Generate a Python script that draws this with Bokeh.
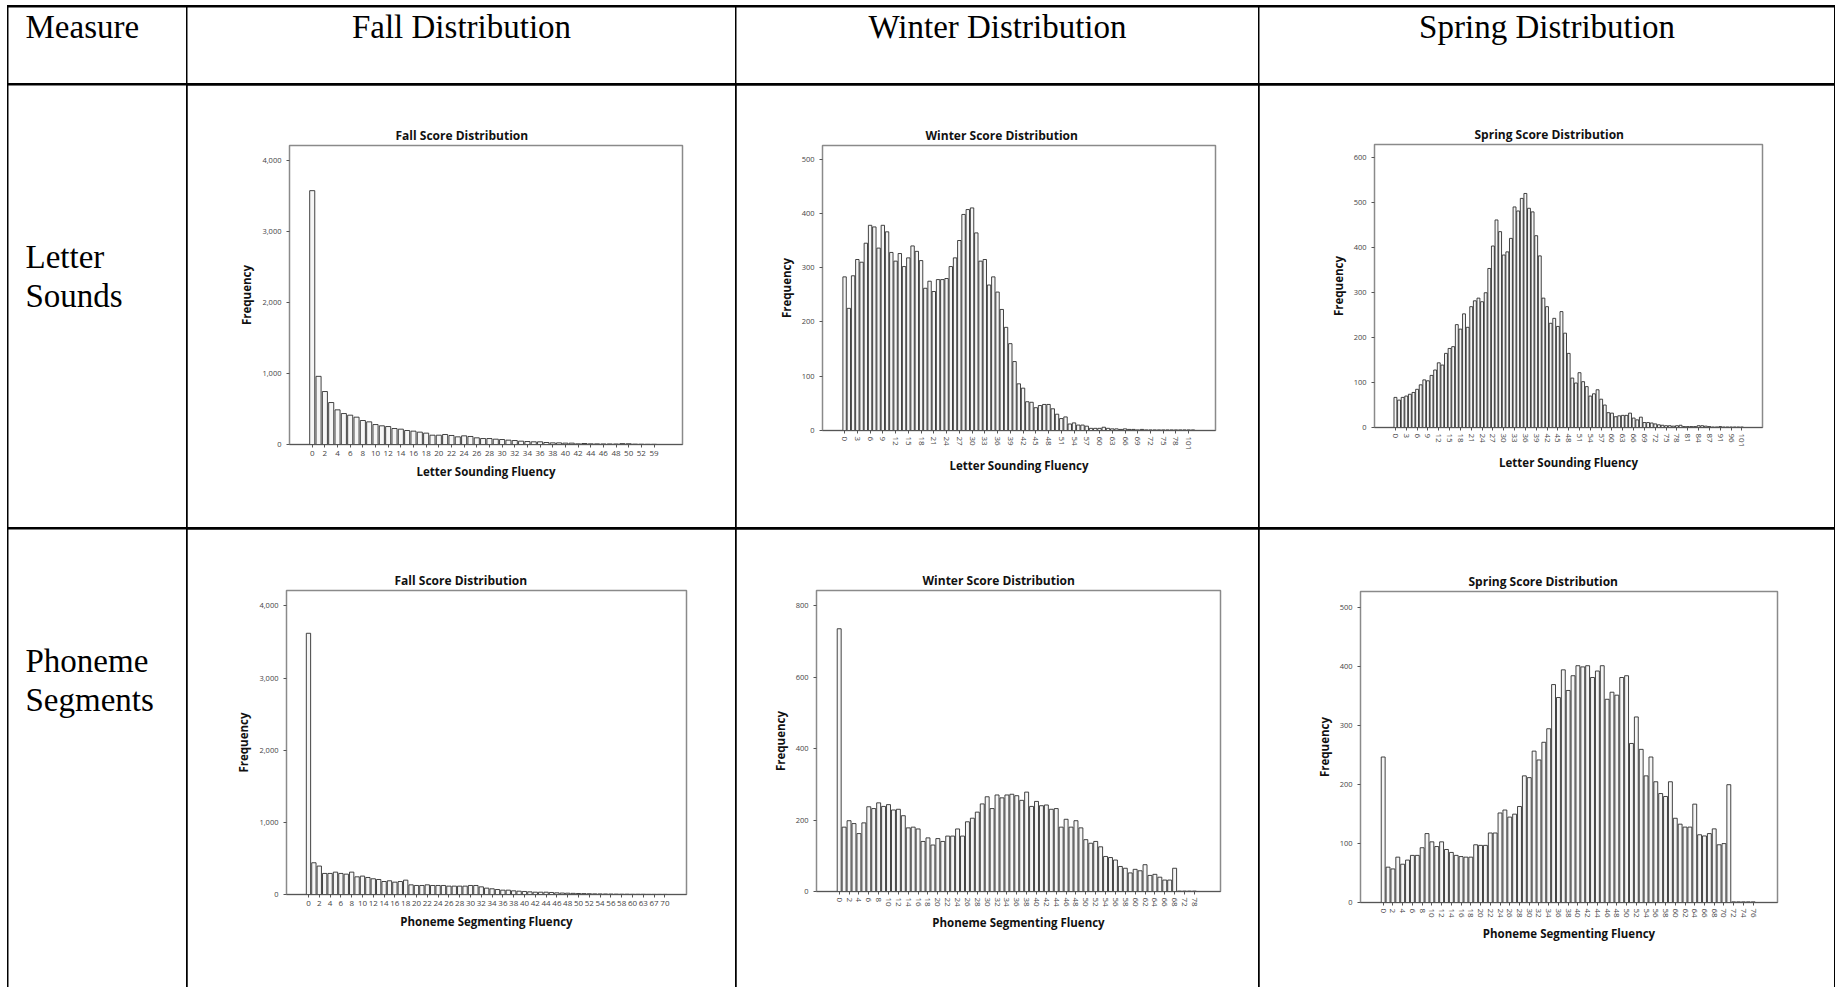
from bokeh.plotting import figure
from bokeh.layouts import row, column
from bokeh.models import Range1d, FixedTicker, SingleIntervalTicker, NumeralTickFormatter
from bokeh.core.properties import value
from bokeh.embed import file_html
from bokeh.resources import INLINE

# ---------------- text of the table ----------------
header_labels = ["Measure", "Fall Distribution", "Winter Distribution", "Spring Distribution"]
measure_labels = [["Letter", "Sounds"], ["Phoneme", "Segments"]]
chart_titles = ["Fall Score Distribution", "Winter Score Distribution", "Spring Score Distribution"]
x_titles = ["Letter Sounding Fluency", "Phoneme Segmenting Fluency"]
y_title = "Frequency"

# ---------------- data (score categories and frequencies) ----------------
fall_letter_scores = list(range(0, 53)) + [54, 59]
fall_letter_freq = [3575, 960, 746, 591, 488, 436, 413, 385, 338, 319,
                    281, 263, 253, 225, 216, 197, 188, 174, 160, 131,
                    131, 141, 127, 108, 122, 113, 94, 84, 84, 75,
                    70, 61, 56, 47, 42, 38, 38, 28, 23, 23,
                    19, 19, 9, 14, 9, 8, 7, 7, 6, 12,
                    10, 4, 3, 2, 2]

winter_letter_scores = list(range(0, 79)) + [80, 84, 101, 108]
winter_letter_freq = [283, 225, 285, 315, 310, 345, 378, 375, 336, 378,
                      366, 328, 312, 326, 302, 318, 340, 330, 313, 262,
                      275, 256, 278, 278, 280, 302, 318, 350, 398, 407,
                      410, 364, 312, 315, 268, 283, 255, 223, 190, 160,
                      127, 86, 78, 53, 52, 42, 46, 48, 48, 40,
                      30, 22, 25, 12, 14, 10, 10, 8, 4, 4,
                      4, 6, 4, 3, 3, 2, 3, 2, 2, 1,
                      2, 1, 1, 1, 1, 1, 1, 1, 1, 1,
                      1, 1, 1]

spring_letter_scores = list(range(0, 90)) + [91, 93, 94, 96, 97, 99, 101]
spring_letter_freq = [67, 61, 67, 70, 74, 78, 85, 95, 106, 104,
                      116, 128, 144, 139, 165, 176, 180, 229, 219, 253,
                      223, 269, 282, 288, 280, 300, 354, 404, 462, 436,
                      384, 391, 421, 491, 482, 510, 521, 488, 480, 427,
                      382, 288, 269, 232, 243, 225, 258, 210, 165, 110,
                      99, 122, 102, 91, 70, 75, 84, 63, 50, 33,
                      32, 24, 26, 27, 27, 32, 21, 17, 23, 11,
                      11, 10, 8, 6, 5, 4, 4, 3, 4, 5,
                      2, 2, 2, 2, 4, 4, 3, 2, 1, 1,
                      2, 1, 1, 1, 1, 1, 1]

fall_phoneme_scores = list(range(0, 61)) + [62, 63, 65, 67, 68, 70]
fall_phoneme_freq = [3620, 440, 394, 292, 292, 310, 292, 282, 310, 245,
                     255, 236, 218, 208, 180, 190, 171, 180, 199, 134,
                     125, 125, 134, 125, 125, 125, 116, 116, 116, 116,
                     125, 125, 106, 88, 79, 69, 60, 60, 51, 46,
                     42, 37, 32, 32, 32, 28, 23, 20, 18, 16,
                     14, 12, 10, 8, 7, 6, 5, 4, 3, 3,
                     2, 2, 2, 1, 1, 1, 1]

winter_phoneme_scores = list(range(0, 69)) + [70, 72, 75, 78]
winter_phoneme_freq = [735, 180, 198, 190, 162, 192, 237, 232, 248, 238,
                       243, 228, 230, 212, 178, 180, 175, 140, 150, 130,
                       148, 140, 155, 155, 175, 155, 195, 205, 222, 245,
                       265, 232, 270, 262, 270, 272, 268, 255, 278, 238,
                       252, 240, 242, 230, 232, 180, 202, 180, 198, 178,
                       145, 135, 140, 125, 98, 95, 88, 70, 65, 52,
                       62, 58, 75, 45, 48, 40, 32, 32, 65, 1,
                       1, 1, 1]

spring_phoneme_scores = list(range(0, 77))
spring_phoneme_freq = [247, 60, 57, 77, 65, 72, 80, 80, 93, 117,
                       103, 95, 103, 90, 85, 80, 78, 77, 77, 98,
                       97, 97, 118, 118, 152, 157, 145, 150, 163, 215,
                       212, 257, 242, 272, 295, 370, 348, 395, 360, 385,
                       402, 400, 402, 382, 393, 402, 345, 357, 352, 382,
                       385, 270, 315, 260, 215, 247, 205, 185, 180, 205,
                       143, 133, 128, 128, 167, 115, 113, 117, 125, 98,
                       100, 200, 1, 1, 1, 1, 1]

# ---------------- layout ----------------
col_w = [178, 548, 522, 575]
row_h = [76, 442, 458]

SERIF = "Liberation Serif"
SANS = "Open Sans"
HEAD_SIZE = "33px"


def blank(w, h):
    p = figure(width=w, height=h, x_range=Range1d(0, w), y_range=Range1d(0, h),
               output_backend="svg", toolbar_location=None,
               x_axis_type=None, y_axis_type=None, min_border=0)
    p.outline_line_color = None
    p.background_fill_color = "white"
    p.border_fill_color = "white"
    return p


def header_cell(w, h, text, centered):
    p = blank(w, h)
    p.text(x=[w / 2 if centered else 17], y=[h - 19], text=[text], text_font=value(SERIF),
           text_font_size=HEAD_SIZE, text_align="center" if centered else "left",
           text_baseline="middle", text_color="black")
    return column(p)


def measure_cell(w, h, lines, first_baseline):
    p = blank(w, h)
    ys = [h - first_baseline - 39 * i for i in range(len(lines))]
    p.text(x=[17] * len(lines), y=ys, text=lines, text_font=value(SERIF),
           text_font_size=HEAD_SIZE, text_align="left", text_baseline="alphabetic",
           text_color="black")
    return column(p)


def hist(w, h, borders, title, title_offset, xlabel, scores, freq, step, xr, ymax, yint, vertical):
    L, R, T, B = borders
    idx = list(range(len(scores)))
    p = figure(width=w, height=h, x_range=Range1d(*xr), y_range=Range1d(0, ymax),
               output_backend="svg", toolbar_location=None,
               min_border_left=L, min_border_right=R, min_border_top=T, min_border_bottom=B)
    p.background_fill_color = "white"
    p.border_fill_color = "white"
    p.outline_line_color = "#8a8a8a"
    p.outline_line_width = 1.5
    p.grid.grid_line_color = None

    p.vbar(x=idx, top=freq, width=0.8, bottom=0, fill_color="#f6f6f6",
           line_color="#2e2e2e", line_width=0.9)

    p.title.text = title
    p.title.align = "left"
    p.title.offset = title_offset
    p.title.standoff = 3
    p.title.text_font = SANS
    p.title.text_font_size = "12px"
    p.title.text_font_style = "bold"
    p.title.text_color = "#111111"

    xa = p.xaxis[0]
    xa.ticker = FixedTicker(ticks=idx[::step])
    xa.major_label_overrides = {i: str(scores[i]) for i in idx[::step]}
    xa.axis_label = xlabel
    xa.axis_label_text_font = SANS
    xa.axis_label_text_font_size = "11.5px"
    xa.axis_label_text_font_style = "bold"
    xa.axis_label_text_color = "#111111"
    xa.axis_label_standoff = 5
    xa.major_label_text_font = SANS
    xa.major_label_text_font_size = "8px"
    xa.major_label_text_color = "#444444"
    xa.major_label_standoff = 3
    xa.major_tick_in = 0
    xa.major_tick_out = 3
    xa.major_tick_line_color = "#555555"
    xa.minor_tick_line_color = None
    xa.axis_line_color = "#555555"
    if vertical:
        xa.major_label_orientation = "vertical"

    ya = p.yaxis[0]
    ya.ticker = SingleIntervalTicker(interval=yint)
    ya.formatter = NumeralTickFormatter(format="0,0")
    ya.axis_label = y_title
    ya.axis_label_text_font = SANS
    ya.axis_label_text_font_size = "11.5px"
    ya.axis_label_text_font_style = "bold"
    ya.axis_label_text_color = "#111111"
    ya.axis_label_standoff = 5
    ya.major_label_text_font = SANS
    ya.major_label_text_font_size = "7.5px"
    ya.major_label_text_color = "#444444"
    ya.major_label_standoff = 4
    ya.major_tick_in = 0
    ya.major_tick_out = 3
    ya.major_tick_line_color = "#555555"
    ya.minor_tick_line_color = None
    ya.axis_line_color = "#8a8a8a"
    return column(p)


r0 = row(header_cell(col_w[0], row_h[0], header_labels[0], False),
         header_cell(col_w[1], row_h[0], header_labels[1], True),
         header_cell(col_w[2], row_h[0], header_labels[2], True),
         header_cell(col_w[3], row_h[0], header_labels[3], True),
         spacing=1)

r1 = row(measure_cell(col_w[0], row_h[1], measure_labels[0], 171),
         hist(col_w[1], row_h[1], (102, 53, 60, 83), chart_titles[0], 106, x_titles[0],
              fall_letter_scores, fall_letter_freq, 2, (-3.59, 58.5), 4211, 1000, False),
         hist(col_w[2], row_h[1], (86, 43, 60, 97), chart_titles[1], 103, x_titles[0],
              winter_letter_scores, winter_letter_freq, 3, (-5.2, 87.3), 525, 100, True),
         hist(col_w[3], row_h[1], (115, 72, 59, 100), chart_titles[2], 100, x_titles[0],
              spring_letter_scores, spring_letter_freq, 3, (-5.8, 101.7), 630, 100, True),
         spacing=1)

r2 = row(measure_cell(col_w[0], row_h[2], measure_labels[1], 131),
         hist(col_w[1], row_h[2], (99, 49, 61, 93), chart_titles[0], 108, x_titles[1],
              fall_phoneme_scores, fall_phoneme_freq, 2, (-4.07, 70.0), 4213, 1000, False),
         hist(col_w[2], row_h[2], (80, 38, 61, 96), chart_titles[1], 106, x_titles[1],
              winter_phoneme_scores, winter_phoneme_freq, 2, (-4.6, 77.3), 842, 200, True),
         hist(col_w[3], row_h[2], (101, 57, 62, 85), chart_titles[2], 108, x_titles[1],
              spring_phoneme_scores, spring_phoneme_freq, 2, (-4.66, 81.0), 528, 100, True),
         spacing=1)

table = column(r0, r1, r2, spacing=2,
               styles={"background-color": "black", "padding": "2px 1px 0px 1px"})

page = column(table, styles={"background-color": "white", "padding": "5px 0px 0px 7px"})

open("out.html", "w").write(file_html(page, INLINE, "Score Distributions"))
